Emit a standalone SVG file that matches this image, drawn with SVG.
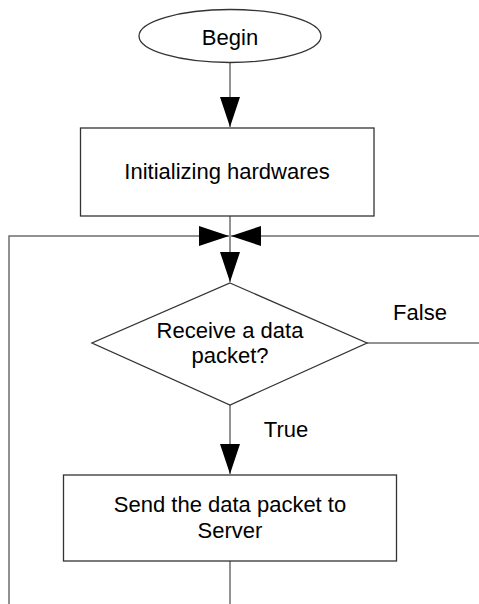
<svg xmlns="http://www.w3.org/2000/svg" width="479" height="604" viewBox="0 0 479 604">
<style>
.shape{fill:#fff;stroke:#333;stroke-width:1.3}
.conn{fill:none;stroke:#6e6e6e;stroke-width:1.5}
text{font-family:"Liberation Sans",Arial,sans-serif;font-size:22px;fill:#000;text-anchor:middle}
</style>
<defs>
<marker id="ah" markerUnits="userSpaceOnUse" markerWidth="31" markerHeight="21" refX="30" refY="10" orient="auto" viewBox="0 0 31 21">
<path d="M0,0 L30,10 L0,20 Z" fill="#000"/>
</marker>
</defs>
<g id="connectors">
<path class="conn" d="M230,63 V127" marker-end="url(#ah)"/>
<path class="conn" d="M230,216 V282" marker-end="url(#ah)"/>
<path class="conn" d="M9,604 V236 H229" marker-end="url(#ah)"/>
<path class="conn" d="M479,236 H231" marker-end="url(#ah)"/>
<path class="conn" d="M367,343 H479"/>
<path class="conn" d="M230,405 V474" marker-end="url(#ah)"/>
<path class="conn" d="M230,561 V604"/>
<text x="420" y="320">False</text>
<text x="286" y="437">True</text>
</g>
<g id="begin">
<ellipse class="shape" cx="230" cy="36" rx="91" ry="26.5"/>
<text x="230" y="45">Begin</text>
</g>
<g id="init">
<rect class="shape" x="80.5" y="128" width="293.5" height="88"/>
<text x="227" y="179">Initializing hardwares</text>
</g>
<g id="decision">
<polygon class="shape" points="230,283 367,343 230,405 92,343"/>
<text x="230" y="338">Receive a data</text>
<text x="230" y="363">packet?</text>
</g>
<g id="send">
<rect class="shape" x="63.5" y="475" width="333" height="86"/>
<text x="230" y="512">Send the data packet to</text>
<text x="230" y="538">Server</text>
</g>
</svg>
